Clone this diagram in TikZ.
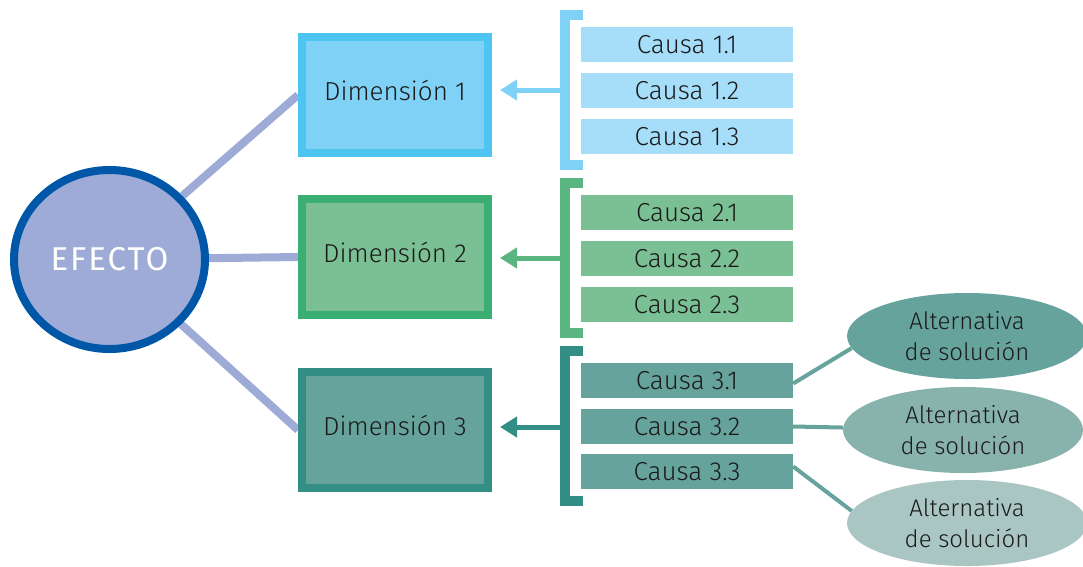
\documentclass[tikz,border=0pt]{standalone}
\usepackage{fontspec}
\setmainfont{Fira Sans}[UprightFont=* Light]
\newfontfamily\spacedfont[LetterSpace=6]{Fira Sans}
\usetikzlibrary{arrows.meta,shapes.geometric,backgrounds}

\definecolor{linkcol}{HTML}{9DABD6}
\definecolor{effline}{HTML}{0057A8}
\definecolor{oneline}{HTML}{4EC5F1}
\definecolor{onefill}{HTML}{80D1F6}
\definecolor{onecause}{HTML}{A6DDF8}
\definecolor{twoline}{HTML}{3BAE73}
\definecolor{twofill}{HTML}{7BBF94}
\definecolor{twobrack}{HTML}{5AB580}
\definecolor{threeline}{HTML}{338E86}
\definecolor{threefill}{HTML}{67A39D}
\definecolor{altmid}{HTML}{88B2AC}
\definecolor{altlow}{HTML}{A9C6C3}
\definecolor{txt}{HTML}{1A1A1A}

\begin{document}
\begin{tikzpicture}[x=1pt, y=-1pt, every node/.style={font=\fontsize{26}{32}\selectfont, text=txt},
	dim/.style={draw, line width=8pt, minimum width=186pt, minimum height=116pt, inner sep=0pt, text depth=9pt},
	cause/.style={minimum width=212pt, minimum height=35pt, inner sep=0pt},
	alt/.style={ellipse, minimum width=240pt, minimum height=86pt, inner sep=0pt, align=center,
		font=\fontsize{24}{31}\selectfont},
	bracket/.style={line width=10pt, line join=miter},
	feed/.style={line width=5pt, -{Triangle[length=17pt, width=20pt]}, shorten >=8pt},
	link/.style={linkcol, line width=8pt},
	sol/.style={threefill, line width=4pt}]
	\useasboundingbox (0,0) rectangle (1083,566);
	\clip (0,0) rectangle (1083,566);

	% effect and dimensions
	\node[ellipse, draw=effline, fill=linkcol, line width=8pt, minimum width=191pt, minimum height=179pt, text=white,
		font=\spacedfont\fontsize{33}{33}\selectfont] (E) at (109.5,259.5) {EFECTO};
	\node[dim, draw=oneline, fill=onefill] (D1) at (395,95) {Dimensión 1};
	\node[dim, draw=twoline, fill=twofill] (D2) at (395,257) {Dimensión 2};
	\node[dim, draw=threeline, fill=threefill] (D3) at (395,430) {Dimensión 3};
	\begin{scope}[on background layer]
		\draw[link] (E) -- (D1.west);
		\draw[link] (E) -- (D2.west);
		\draw[link] (E) -- (D3.west);
	\end{scope}

	% causes
	\node[cause, fill=onecause] (C11) at (687,44.5) {Causa 1.1};
	\node[cause, fill=onecause] (C12) at (687,90.5) {Causa 1.2};
	\node[cause, fill=onecause] (C13) at (687,136.5) {Causa 1.3};
	\node[cause, fill=twofill] (C21) at (687,212.5) {Causa 2.1};
	\node[cause, fill=twofill] (C22) at (687,258.5) {Causa 2.2};
	\node[cause, fill=twofill] (C23) at (687,304.5) {Causa 2.3};
	\node[cause, fill=threefill] (C31) at (687,380.5) {Causa 3.1};
	\node[cause, fill=threefill] (C32) at (687,426.5) {Causa 3.2};
	\node[cause, fill=threefill] (C33) at (687,471.5) {Causa 3.3};

	% brackets feeding each dimension
	\draw[bracket, onefill] (583,15) -- (565,15) -- (565,165) -- (583,165);
	\draw[bracket, twobrack] (583,183) -- (565,183) -- (565,333) -- (583,333);
	\draw[bracket, threeline] (583,351) -- (565,351) -- (565,501) -- (583,501);
	\coordinate (K1) at (560,90);
	\coordinate (K2) at (560,258);
	\coordinate (K3) at (560,427);
	\draw[feed, onefill] (K1) -- (D1.east |- K1);
	\draw[feed, twobrack] (K2) -- (D2.east |- K2);
	\draw[feed, threeline] (K3) -- (D3.east |- K3);

	% alternatives
	\node[alt, fill=threefill] (A1) at (967,336) {Alternativa\\de solución};
	\node[alt, fill=altmid] (A2) at (963,430) {Alternativa\\de solución};
	\node[alt, fill=altlow] (A3) at (967,523) {Alternativa\\de solución};
	\draw[sol] ([yshift=-3pt]C31.east) -- (A1.186);
	\draw[sol] (C32.east) -- (A2);
	\draw[sol] ([yshift=5pt]C33.east) -- (A3.174);
\end{tikzpicture}
\end{document}
